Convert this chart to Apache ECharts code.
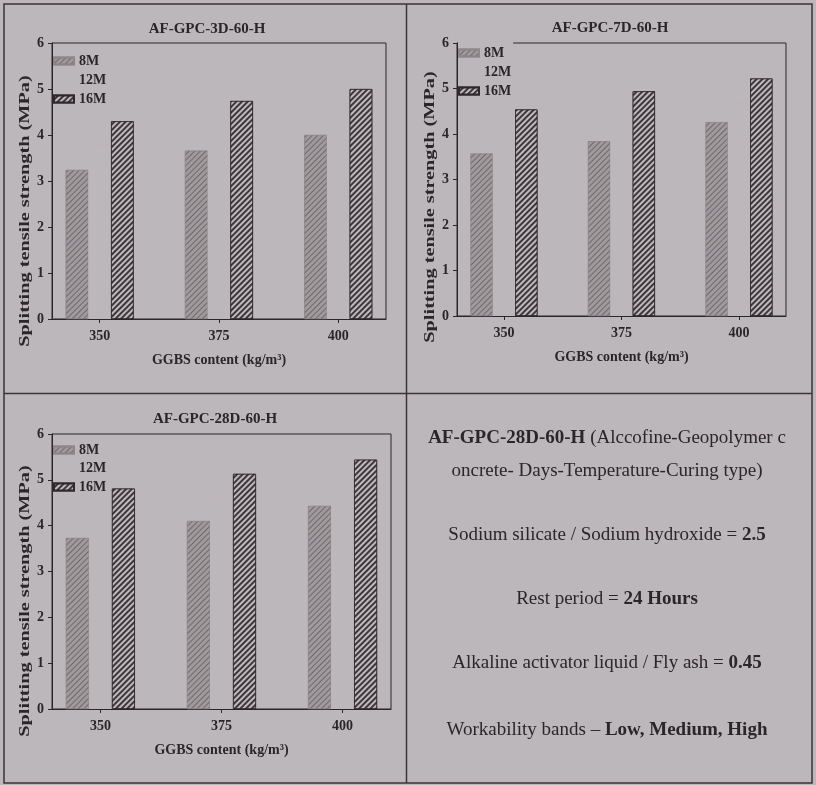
<!DOCTYPE html>
<html>
<head>
<meta charset="utf-8">
<script src="https://cdn.jsdelivr.net/npm/echarts@6/dist/echarts.min.js"></script>
<style>
  html, body { margin: 0; padding: 0; background: #bcb7ba; }
  #chart { width: 816px; height: 785px; }
</style>
</head>
<body>
<div id="chart"></div>
<script>
// GGBS content (kg/m3) on the x axis and NaOH molarity groups
const ggbsContent = [350, 375, 400];
const molarities = ['8M', '12M', '16M'];
const panelTitles = ['AF-GPC-3D-60-H', 'AF-GPC-7D-60-H', 'AF-GPC-28D-60-H'];

// Splitting tensile strength (MPa), 3-day curing
const day3_8M  = [3.24, 3.66, 4.00];
const day3_12M = [3.80, 4.20, 4.50];
const day3_16M = [4.30, 4.74, 5.00];
// 7-day curing
const day7_8M  = [3.57, 3.84, 4.26];
const day7_12M = [4.10, 4.40, 4.70];
const day7_16M = [4.54, 4.94, 5.22];
// 28-day curing
const day28_8M  = [3.73, 4.10, 4.43];
const day28_12M = [4.30, 4.60, 4.90];
const day28_16M = [4.81, 5.13, 5.44];

const xAxisName = 'GGBS content (kg/m³)';
const yAxisName = 'Splitting tensile strength (MPa)';

// Mix description shown in the fourth cell
const notes = [
  '{b|AF-GPC-28D-60-H} (Alccofine-Geopolymer c',
  'oncrete- Days-Temperature-Curing type)',
  'Sodium silicate / Sodium hydroxide = {b|2.5}',
  'Rest period = {b|24 Hours}',
  'Alkaline activator liquid / Fly ash = {b|0.45}',
  'Workability bands – {b|Low, Medium, High}'
];

const ink = '#2b2629';
const paper = '#bcb7ba';
const serif = 'Liberation Serif';

const panelData = [
  [day3_8M, day3_12M, day3_16M],
  [day7_8M, day7_12M, day7_16M],
  [day28_8M, day28_12M, day28_16M]
];

// layout of the three plot cells
const layout = [
  { grid: { left: 52, top: 43, width: 334, height: 276 }, title: [207, 29], ylab: [25, 211],
    legend: { left: 53, top: 54, padding: 0, itemGap: 5 } },
  { grid: { left: 457, top: 43, width: 329, height: 273 }, title: [610, 28], ylab: [430, 207],
    legend: { left: 458, top: 40, padding: [6, 2, 4, 0], itemGap: 5, backgroundColor: paper } },
  { grid: { left: 52, top: 434, width: 339, height: 275 }, title: [215, 419], ylab: [25, 601],
    legend: { left: 53, top: 443, padding: 0, itemGap: 4.5 } }
];

// 8M: light hatched, 12M: unfilled (paper), 16M: dark hatched
const barStyles = [
  { color: '#a09a9d', borderColor: '#8d878a', borderWidth: 0.5,
    decal: { symbol: 'rect', symbolSize: 1, dashArrayX: [1, 0], dashArrayY: [1, 3],
             rotation: -Math.PI / 4, color: 'rgba(70,64,68,0.55)' } },
  { color: paper, borderColor: paper, borderWidth: 1.5 },
  { color: '#3d373b', borderColor: '#2f292d', borderWidth: 0.8,
    decal: { symbol: 'rect', symbolSize: 1, dashArrayX: [1, 0], dashArrayY: [2, 2],
             rotation: -Math.PI / 4, color: 'rgba(205,200,203,0.9)' } }
];

const textStyle = (size, weight) => ({ color: ink, fontFamily: serif, fontSize: size, fontWeight: weight });

const grids = [], xAxes = [], yAxes = [], series = [], legends = [], graphics = [];

layout.forEach((p, i) => {
  grids.push(Object.assign({ show: true, borderColor: ink, borderWidth: 1, backgroundColor: 'transparent' }, p.grid));
  xAxes.push({
    type: 'value', gridIndex: i, min: 340, max: 410,
    splitLine: { show: false },
    axisLine: { show: true, lineStyle: { color: ink, width: 1 } },
    axisTick: { show: true, customValues: ggbsContent, length: 4, lineStyle: { color: ink } },
    axisLabel: Object.assign({ customValues: ggbsContent, margin: 10 }, textStyle(14, 'bold')),
    name: xAxisName, nameLocation: 'middle', nameGap: 34,
    nameTextStyle: textStyle(14, 'bold')
  });
  yAxes.push({
    type: 'value', gridIndex: i, min: 0, max: 6, interval: 1,
    splitLine: { show: false },
    axisLine: { show: true, lineStyle: { color: ink, width: 1 } },
    axisTick: { show: true, length: 4, lineStyle: { color: ink } },
    axisLabel: Object.assign({ margin: 8 }, textStyle(14, 'bold'))
  });
  molarities.forEach((m, k) => {
    series.push({
      type: 'bar', name: m, xAxisIndex: i, yAxisIndex: i,
      barWidth: '19%', barGap: '0%',
      itemStyle: barStyles[k],
      emphasis: { disabled: true },
      data: ggbsContent.map((g, j) => [g, panelData[i][k][j]])
    });
  });
  legends.push(Object.assign({
    orient: 'vertical', data: molarities, icon: 'rect',
    itemWidth: 20, itemHeight: 7, selectedMode: false,
    textStyle: textStyle(14, 'bold')
  }, p.legend));
  graphics.push({
    type: 'text', x: p.title[0], y: p.title[1],
    style: { text: panelTitles[i], font: 'bold 15px "Liberation Serif"', fill: ink,
             align: 'center', verticalAlign: 'middle', textAlign: 'center', textVerticalAlign: 'middle' }
  });
  graphics.push({
    type: 'text', x: p.ylab[0], y: p.ylab[1], rotation: Math.PI / 2, scaleX: 1.35,
    style: { text: yAxisName, font: 'bold 15px "Liberation Serif"', fill: ink,
             align: 'center', verticalAlign: 'middle', textAlign: 'center', textVerticalAlign: 'middle' }
  });
});

// fourth cell: mix description
const noteY = [438, 471, 535, 599, 663, 730];
notes.forEach((t, i) => {
  graphics.push({
    type: 'text', x: 607, y: noteY[i],
    style: {
      text: t, font: '19px "Liberation Serif"', fill: ink,
      align: 'center', verticalAlign: 'middle', textAlign: 'center', textVerticalAlign: 'middle',
      rich: { b: { fontWeight: 'bold', fontSize: 19, fontFamily: serif, color: ink } }
    }
  });
});

// table frame around the four cells
graphics.push(
  { type: 'rect', shape: { x: 4, y: 4, width: 808, height: 779 }, style: { fill: 'none', stroke: '#3a3438', lineWidth: 1.5 } },
  { type: 'line', shape: { x1: 406.5, y1: 4, x2: 406.5, y2: 783 }, style: { stroke: '#3a3438', lineWidth: 1.5 } },
  { type: 'line', shape: { x1: 4, y1: 393.5, x2: 812, y2: 393.5 }, style: { stroke: '#3a3438', lineWidth: 1.5 } }
);

const chart = echarts.init(document.getElementById('chart'), null, { renderer: 'canvas' });
chart.setOption({
  backgroundColor: paper,
  animation: false,
  grid: grids,
  xAxis: xAxes,
  yAxis: yAxes,
  legend: legends,
  series: series,
  graphic: graphics
});
</script>
</body>
</html>
